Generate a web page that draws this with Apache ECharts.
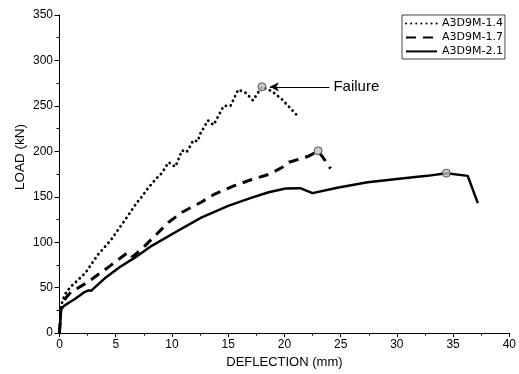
<!DOCTYPE html>
<html>
<head>
<meta charset="utf-8">
<script src="https://cdn.jsdelivr.net/npm/echarts@6/dist/echarts.min.js"></script>
<style>
  html, body { margin: 0; padding: 0; background: #fff; }
  #chart { width: 519px; height: 374px; }
</style>
</head>
<body>
<div id="chart"></div>
<script>
// Load–deflection curves, [deflection (mm), load (kN)]
const seriesNames = ['A3D9M-1.4', 'A3D9M-1.7', 'A3D9M-2.1'];

const curve14 = [
  [0, 0], [0.05, 10], [0.1, 22], [0.15, 30], [0.3, 37], [0.6, 45], [1.0, 51], [1.35, 55],
  [2.2, 65], [2.4, 68], [3.4, 86], [4.6, 103], [5.8, 124], [6.9, 144], [7.2, 148],
  [7.9, 160], [8.6, 170], [9.1, 176], [9.7, 188], [10.3, 183], [10.9, 201], [11.3, 199],
  [11.9, 212], [12.3, 211], [12.5, 219], [13.2, 234], [13.7, 229], [14.6, 250], [15.2, 250],
  [15.9, 268], [16.6, 264], [17.2, 256], [18.0, 271], [18.9, 266], [19.8, 257], [21.1, 240]
];

const curve17 = [
  [0, 0], [0.05, 12], [0.1, 25], [0.2, 32], [0.45, 37], [1.0, 45], [2.5, 56], [4.5, 74],
  [6.0, 88], [6.2, 89], [6.5, 84], [7.6, 96], [9.7, 122], [10.9, 133], [12.6, 144],
  [13.8, 153], [15.5, 162], [17.1, 169], [18.7, 175], [19.9, 183], [20.4, 188], [22.0, 194],
  [22.5, 197], [23.0, 200.5], [23.5, 192], [24.1, 181]
];

const curve21 = [
  [0, 0], [0.05, 8], [0.1, 18], [0.15, 26], [0.4, 30], [0.9, 34], [1.3, 37], [2.2, 45],
  [2.6, 47], [2.8, 46.5], [4.0, 60], [5.4, 73], [6.7, 83], [8.2, 96], [10.3, 111],
  [12.6, 127], [15.0, 140], [17.1, 149], [18.6, 155], [20.1, 159], [21.4, 159.5],
  [22.5, 154], [24.7, 160], [27.4, 166], [30.4, 170], [32.7, 173], [34.4, 176],
  [36.3, 173], [37.2, 143]
];

// Axis ticks
const xTicks = { min: 0, max: 40, step: 5 };
const yTicks = { min: 0, max: 350, step: 50 };

// "Failure" callout: arrow runs from tail to head (deflection, load)
const failureText = 'Failure';
const failureArrowTail = [24.0, 271];
const failureArrowHead = [18.7, 271];

// Failure point of each specimen = point of maximum load
const peakOf = arr => arr.reduce((best, p) => (p[1] > best[1] ? p : best), arr[0]);
const peaks = [curve14, curve17, curve21].map(peakOf);

const FONT = 'Liberation Sans, Arial, sans-serif';

const chart = echarts.init(document.getElementById('chart'), null, { renderer: 'canvas' });

const axisCommon = {
  type: 'value',
  axisLine: { show: true, onZero: false, lineStyle: { color: '#000', width: 1 } },
  splitLine: { show: false },
  axisLabel: { color: '#000', fontSize: 12, fontFamily: FONT }
};

chart.setOption({
  animation: false,
  backgroundColor: '#fff',
  color: ['#000', '#000', '#000'],
  grid: { left: 59.5, right: 9.5, top: 15, bottom: 39, containLabel: false },
  xAxis: Object.assign({}, axisCommon, {
    min: xTicks.min, max: xTicks.max, interval: xTicks.step,
    name: 'DEFLECTION (mm)', nameLocation: 'middle', nameGap: 17,
    nameTextStyle: { color: '#000', fontSize: 13, fontFamily: FONT },
    axisTick: { show: true, length: 4, lineStyle: { color: '#000' } },
    minorTick: { show: true, splitNumber: 2, length: 2.5, lineStyle: { color: '#000' } },
    axisLabel: Object.assign({}, axisCommon.axisLabel, { margin: 6 })
  }),
  yAxis: Object.assign({}, axisCommon, {
    min: yTicks.min, max: yTicks.max, interval: yTicks.step,
    axisTick: { show: true, length: 5, lineStyle: { color: '#000' } },
    minorTick: { show: true, splitNumber: 2, length: 3, lineStyle: { color: '#000' } },
    axisLabel: Object.assign({}, axisCommon.axisLabel, { margin: 6.5 })
  }),
  legend: {
    data: seriesNames,
    orient: 'vertical',
    left: 402, top: 15,
    padding: [3, 2, 2, 3],
    itemWidth: 31, itemHeight: 14, itemGap: 2.7,
    borderColor: '#444', borderWidth: 1,
    itemStyle: { opacity: 0 },
    textStyle: { color: '#000', fontSize: 11, fontFamily: 'DejaVu Sans, sans-serif' }
  },
  graphic: [{
    type: 'text',
    x: 20, y: 157, rotation: Math.PI / 2,
    style: {
      text: 'LOAD (kN)', fill: '#000', font: '13.5px ' + FONT,
      textAlign: 'center', textVerticalAlign: 'middle'
    }
  }],
  series: [
    {
      name: seriesNames[0], type: 'line', data: curve14, symbol: 'none',
      lineStyle: { color: '#000', width: 2.8, type: [0.1, 5.0], cap: 'round' },
      markLine: {
        silent: true, symbol: ['none', 'arrow'], symbolSize: [7, 9],
        lineStyle: { color: '#000', width: 1.2, type: 'solid' },
        label: { show: true, position: 'start', formatter: failureText, distance: 4,
                 color: '#000', fontSize: 15, fontFamily: FONT },
        data: [[{ coord: failureArrowTail }, { coord: failureArrowHead }]]
      }
    },
    {
      name: seriesNames[1], type: 'line', data: curve17, symbol: 'none',
      lineStyle: { color: '#000', width: 3, type: [10, 7] }
    },
    {
      name: seriesNames[2], type: 'line', data: curve21, symbol: 'none',
      lineStyle: { color: '#000', width: 2.5, type: 'solid' }
    },
    {
      name: 'failure', type: 'scatter', data: peaks, symbol: 'circle', symbolSize: 8,
      itemStyle: { color: '#c0c0c0', borderColor: '#333', borderWidth: 1 }, z: 5
    }
  ]
});
</script>
</body>
</html>
